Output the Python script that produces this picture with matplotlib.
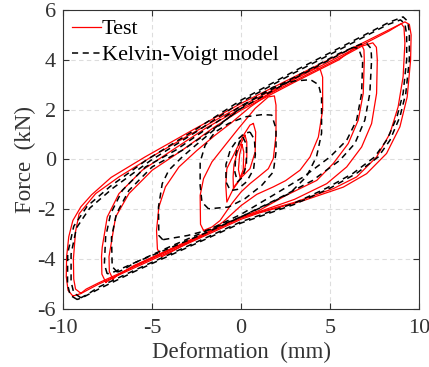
import numpy as np
import matplotlib.pyplot as plt

plt.rcParams['font.family'] = ['Liberation Serif', 'DejaVu Serif']
plt.rcParams['axes.unicode_minus'] = False

# Test loops (red), each listed as (deformation mm, force kN) points around the loop
test_loops = [
    [(-9.45, -5.48), (-9.72, -5.25), (-9.82, -4.7), (-9.8, -3.9), (-9.68, -3.1), (-9.45, -2.45),
     (-9.0, -1.9), (-8.4, -1.42), (-7.3, -0.72), (-5.4, 0.1), (-2.75, 1.17), (0, 2.25), (3, 3.32),
     (6, 4.38), (8.5, 5.27), (9.2, 5.52), (9.45, 5.42), (9.55, 5.0), (9.52, 3.99), (9.33, 2.51),
     (8.92, 1.31), (8.17, 0.24), (7.05, -0.57), (5.74, -1.11), (3.5, -1.65), (1, -2.15), (0, -2.4),
     (-2, -3.05), (-4, -3.7), (-6, -4.35), (-8, -5.0), (-9.0, -5.38)],
    [(-9.0, -5.37), (-9.3, -5.2), (-9.4, -4.8), (-9.42, -4.0), (-9.3, -2.9), (-9.1, -2.18),
     (-8.17, -1.37), (-6.86, -0.7), (-5.0, 0.12), (-2.5, 1.15), (0, 2.15), (3, 3.22), (6, 4.3),
     (8.3, 5.15), (9.0, 5.45), (9.15, 5.3), (9.2, 4.66), (9.1, 3.32), (8.82, 2.11), (8.36, 1.04),
     (7.61, 0.1), (6.49, -0.7), (5.18, -1.17), (3, -1.72), (1, -2.12), (0, -2.35), (-2, -3.0),
     (-4, -3.65), (-6, -4.3), (-8, -4.95), (-8.7, -5.2)],
    [(-7.6, -4.93), (-7.82, -4.6), (-7.84, -3.9), (-7.8, -3.52), (-7.52, -2.31), (-6.86, -1.37),
     (-5.55, -0.43), (-3.87, 0.37), (-2, 1.25), (0, 2.05), (3, 3.15), (5.5, 4.05), (6.8, 4.55),
     (7.4, 4.68), (7.6, 4.5), (7.65, 4.0), (7.61, 2.65), (7.33, 1.44), (6.77, 0.5), (5.93, -0.3),
     (4.81, -0.97), (3, -1.6), (1, -2.1), (0, -2.33), (-2, -2.98), (-4, -3.62), (-6, -4.27),
     (-7.2, -4.75)],
    [(-7.2, -4.8), (-7.4, -4.5), (-7.42, -3.9), (-7.33, -3.52), (-7.05, -2.31), (-6.3, -1.37),
     (-4.99, -0.43), (-3.31, 0.37), (-1.5, 1.3), (0, 1.98), (3, 3.1), (5.5, 4.0), (6.5, 4.55),
     (6.77, 4.6), (6.9, 4.4), (6.92, 3.99), (6.86, 2.65), (6.58, 1.58), (6.02, 0.64), (5.18, -0.16),
     (4.25, -0.84), (2.5, -1.45), (1, -2.05), (0, -2.3), (-2, -2.95), (-4, -3.6), (-6, -4.25),
     (-6.9, -4.62)],
    [(-4.45, -3.9), (-4.7, -3.6), (-4.75, -2.85), (-4.62, -1.91), (-4.25, -1.1), (-3.49, -0.3),
     (-2.5, 0.35), (-1.5, 0.95), (-0.5, 1.5), (0.5, 2.1), (1.5, 2.6), (2.5, 3.05), (3.5, 3.45),
     (4.2, 3.68), (4.45, 3.6), (4.58, 3.3), (4.58, 1.98), (4.34, 0.9), (3.87, 0.1), (3.31, -0.43),
     (2.5, -0.85), (1.81, -1.1), (0.88, -1.4), (0, -1.85), (-1, -2.5), (-2, -3.0), (-3, -3.35),
     (-3.9, -3.7)],
    [(-2.11, -2.85), (-2.28, -2.6), (-2.3, -1.44), (-2.11, -0.77), (-1.64, -0.1), (-0.9, 0.57),
     (-0.15, 1.24), (0.79, 2.05), (1.53, 2.51), (1.87, 2.55), (1.96, 2.18), (1.96, 0.97),
     (1.81, 0.04), (1.53, -0.37), (0.97, -0.7), (0.5, -0.97), (0, -1.3), (-0.5, -1.75),
     (-1.18, -2.45), (-1.64, -2.71)],
    [(0.69, 1.44), (0.82, 1.1), (0.79, 0.3), (0.5, -0.37), (0.04, -0.7), (-0.34, -1.04),
     (-0.62, -1.44), (-0.8, -1.71), (-0.86, -1.04), (-0.8, -0.37), (-0.52, 0.04), (-0.24, 0.44),
     (0.13, 0.97), (0.5, 1.38)],
    [(0.22, 0.97), (0.32, 0.7), (0.32, 0.1), (0.2, -0.4), (0, -0.7), (-0.2, -0.95), (-0.43, -1.17),
     (-0.45, -0.7), (-0.4, -0.2), (-0.2, 0.3), (0, 0.65)],
    [(0.05, 0.6), (0.15, 0.3), (0.12, -0.4), (-0.05, -0.75), (-0.15, -0.4), (-0.08, 0.2)],
]

# Kelvin-Voigt model loops (black dashed)
model_loops = [
    [(-9.2, -5.62), (-9.6, -5.45), (-9.75, -5.0), (-9.74, -3.77), (-9.4, -2.68), (-8.65, -1.88),
     (-7.35, -1.08), (-5.29, -0.01), (-2.67, 1.15), (0, 2.38), (3, 3.55), (6, 4.65), (8.3, 5.5),
     (9.1, 5.72), (9.35, 5.55), (9.45, 5.1), (9.45, 4.0), (9.25, 2.65), (8.92, 1.71), (8.36, 0.77),
     (7.7, 0.1), (6.5, -0.55), (5, -1.15), (3, -1.8), (1, -2.3), (0, -2.55), (-2, -3.2),
     (-4, -3.85), (-6, -4.5), (-8, -5.2), (-8.8, -5.5)],
    [(-9.0, -5.55), (-9.4, -5.35), (-9.55, -4.9), (-9.55, -3.8), (-9.25, -2.75), (-8.5, -1.95),
     (-7.2, -1.15), (-5.1, -0.05), (-2.5, 1.12), (0, 2.3), (3, 3.48), (6, 4.58), (8.2, 5.4),
     (8.95, 5.6), (9.2, 5.45), (9.3, 5.0), (9.3, 4.0), (9.1, 2.65), (8.75, 1.7), (8.2, 0.8),
     (7.5, 0.1), (6.3, -0.55), (4.8, -1.15), (3, -1.75), (1, -2.25), (0, -2.5), (-2, -3.15),
     (-4, -3.8), (-6, -4.45), (-8, -5.12), (-8.6, -5.4)],
    [(-7.52, -4.59), (-7.68, -4.2), (-7.61, -3.12), (-7.33, -2.18), (-6.67, -1.24), (-5.37, -0.3),
     (-3.68, 0.37), (-2, 1.2), (0, 2.15), (3, 3.3), (5.5, 4.25), (6.7, 4.62), (7.05, 4.66),
     (7.3, 4.45), (7.33, 3.99), (7.23, 2.65), (6.95, 1.58), (6.39, 0.64), (5.55, -0.03),
     (4, -0.85), (2, -1.6), (0, -2.3), (-2, -2.95), (-4, -3.55), (-6, -4.15), (-7.1, -4.5)],
    [(-6.95, -4.52), (-7.24, -4.3), (-7.28, -3.12), (-7.0, -2.18), (-6.3, -1.24), (-5.0, -0.3),
     (-3.3, 0.37), (-1.5, 1.25), (0, 2.05), (3, 3.25), (5.5, 4.2), (6.3, 4.5), (6.6, 4.45),
     (6.83, 3.99), (6.77, 2.65), (6.49, 1.58), (5.93, 0.77), (4.99, 0.1), (3.5, -0.7), (2, -1.35),
     (0, -2.2), (-2, -2.88), (-4, -3.5), (-6, -4.15), (-6.6, -4.42)],
    [(-4.4, -3.22), (-4.62, -3.05), (-4.64, -1.91), (-4.43, -0.97), (-4.06, -0.43), (-3.31, 0.1),
     (-2.5, 0.6), (-1.5, 1.2), (-0.5, 1.8), (0.5, 2.35), (1.8, 2.9), (3, 3.15), (3.9, 3.2),
     (4.35, 3.0), (4.52, 2.5), (4.52, 1.05), (4.24, 0.12), (3.68, -0.68), (2.75, -1.35),
     (1.5, -1.8), (0, -2.3), (-1.74, -2.81), (-3, -3.05), (-3.98, -3.17)],
    [(-1.83, -1.98), (-2.2, -1.71), (-2.3, -1.04), (-2.3, -0.1), (-2.02, 0.57), (-1.46, 1.1),
     (-0.71, 1.44), (0.22, 1.71), (1.2, 1.8), (1.72, 1.78), (1.96, 1.24), (1.96, 0.3),
     (1.81, -0.5), (1.16, -1.04), (0.22, -1.57), (-0.71, -1.91)],
    [(0.5, 1.1), (0.75, 0.8), (0.8, 0.2), (0.7, -0.4), (0.3, -0.9), (-0.2, -1.2), (-0.6, -1.25),
     (-0.85, -0.9), (-0.85, -0.2), (-0.6, 0.4), (-0.2, 0.8), (0.2, 1.05)],
    [(0.1, 0.9), (0.3, 0.6), (0.3, -0.2), (0.1, -0.7), (-0.2, -0.9), (-0.35, -0.5), (-0.3, 0.2),
     (-0.1, 0.7)],
]

x_ticks = [-10, -5, 0, 5, 10]
y_ticks = [-6, -4, -2, 0, 2, 4, 6]

fig = plt.figure(figsize=(4.29, 3.67), dpi=100)
ax = fig.add_axes([0.147, 0.158, 0.83, 0.815])

for i, loop in enumerate(test_loops):
    pts = np.array(loop + [loop[0]])
    ax.plot(pts[:, 0], pts[:, 1], color='red', lw=0.9,
            label='Test' if i == 0 else None)

for i, loop in enumerate(model_loops):
    pts = np.array(loop + [loop[0]])
    ax.plot(pts[:, 0], pts[:, 1], color='black', lw=1.1, ls=(0, (4, 3)),
            label='Kelvin-Voigt model' if i == 0 else None)

ax.set_xlim(-10, 10)
ax.set_ylim(-6, 6)
ax.set_xticks(x_ticks)
ax.set_yticks(y_ticks)
ax.tick_params(direction='in', top=True, right=True, labelsize=16, length=4, color='#333333')
ax.tick_params(axis='x', pad=7)
ax.tick_params(axis='y', pad=5)
for s in ax.spines.values():
    s.set_color('#333333')
ax.grid(True, ls=(0, (4, 3)), color='#dddddd', lw=0.8)
ax.set_axisbelow(True)

ax.set_xlabel('Deformation  (mm)', fontsize=16.5, labelpad=3, color='#333333')
ax.set_ylabel('Force  (kN)', fontsize=16.5, labelpad=1, color='#333333')
for lab in ax.get_xticklabels() + ax.get_yticklabels():
    lab.set_color('#333333')

ax.legend(loc='upper left', frameon=False, fontsize=16, handlelength=1.3,
          handletextpad=0.05, borderaxespad=0.2, labelspacing=0.25, borderpad=0.2)

fig.savefig('out.png', dpi=100)
